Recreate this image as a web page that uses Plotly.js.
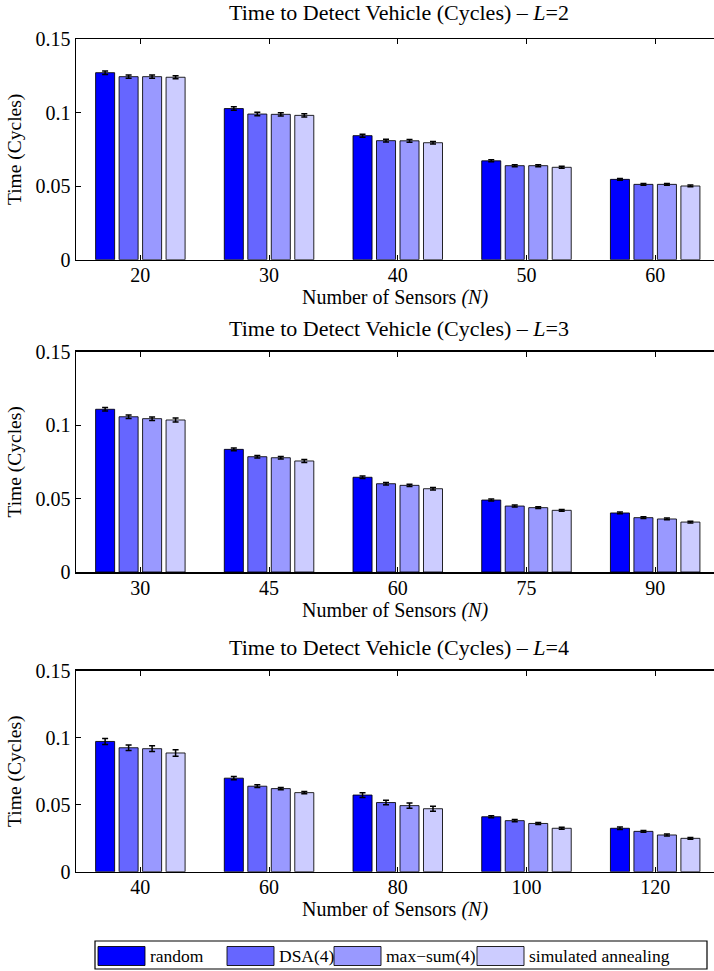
<!DOCTYPE html>
<html>
<head>
<meta charset="utf-8">
<script src="https://cdn.plot.ly/plotly-3.0.1.min.js"></script>
<style>
  html, body { margin: 0; padding: 0; background: #fff; overflow: hidden; }
  #chart { width: 714px; height: 971px; }
</style>
</head>
<body>
<div id="chart"></div>
<script>
// ---------- data ----------
const seriesNames = ['random', 'DSA(4)', 'max\u2212sum(4)', 'simulated annealing'];
const seriesColors = ['#0000FF', '#6666FF', '#9999FF', '#CCCCFF'];

const panelTitles = [
  'Time to Detect Vehicle (Cycles) \u2013 <i>L</i>=2',
  'Time to Detect Vehicle (Cycles) \u2013 <i>L</i>=3',
  'Time to Detect Vehicle (Cycles) \u2013 <i>L</i>=4'
];

const sensorsL2 = ['20', '30', '40', '50', '60'];
const sensorsL3 = ['30', '45', '60', '75', '90'];
const sensorsL4 = ['40', '60', '80', '100', '120'];

// L = 2
const randomL2 = [0.1271, 0.1027, 0.0843, 0.0672, 0.0546];
const dsaL2    = [0.1244, 0.0990, 0.0809, 0.0639, 0.0512];
const maxsumL2 = [0.1244, 0.0988, 0.0808, 0.0639, 0.0512];
const saL2     = [0.1240, 0.0981, 0.0795, 0.0628, 0.0501];
const randomErrL2 = [0.0012, 0.0012, 0.0010, 0.0007, 0.0006];
const dsaErrL2    = [0.0011, 0.0012, 0.0009, 0.0007, 0.0006];
const maxsumErrL2 = [0.0011, 0.0011, 0.0009, 0.0007, 0.0006];
const saErrL2     = [0.0011, 0.0011, 0.0009, 0.0007, 0.0006];

// L = 3
const randomL3 = [0.1108, 0.0835, 0.0645, 0.0490, 0.0402];
const dsaL3    = [0.1057, 0.0785, 0.0601, 0.0449, 0.0370];
const maxsumL3 = [0.1044, 0.0778, 0.0590, 0.0438, 0.0361];
const saL3     = [0.1035, 0.0756, 0.0567, 0.0420, 0.0340];
const randomErrL3 = [0.0012, 0.0009, 0.0008, 0.0007, 0.0006];
const dsaErrL3    = [0.0012, 0.0009, 0.0008, 0.0007, 0.0006];
const maxsumErrL3 = [0.0012, 0.0009, 0.0008, 0.0006, 0.0006];
const saErrL3     = [0.0013, 0.0010, 0.0008, 0.0006, 0.0006];

// L = 4
const randomL4 = [0.0972, 0.0698, 0.0572, 0.0410, 0.0324];
const dsaL4    = [0.0925, 0.0638, 0.0516, 0.0381, 0.0301];
const maxsumL4 = [0.0918, 0.0620, 0.0493, 0.0360, 0.0274];
const saL4     = [0.0886, 0.0590, 0.0470, 0.0324, 0.0249];
const randomErrL4 = [0.0022, 0.0012, 0.0018, 0.0008, 0.0010];
const dsaErrL4    = [0.0021, 0.0010, 0.0017, 0.0008, 0.0007];
const maxsumErrL4 = [0.0021, 0.0009, 0.0019, 0.0007, 0.0007];
const saErrL4     = [0.0024, 0.0009, 0.0018, 0.0007, 0.0006];

const yTickVals = [0, 0.05, 0.1, 0.15];
const yTickText = ['0', '0.05', '0.1', '0.15'];

// ---------- build ----------
const panels = [
  { cats: sensorsL2, vals: [randomL2, dsaL2, maxsumL2, saL2], errs: [randomErrL2, dsaErrL2, maxsumErrL2, saErrL2] },
  { cats: sensorsL3, vals: [randomL3, dsaL3, maxsumL3, saL3], errs: [randomErrL3, dsaErrL3, maxsumErrL3, saErrL3] },
  { cats: sensorsL4, vals: [randomL4, dsaL4, maxsumL4, saL4], errs: [randomErrL4, dsaErrL4, maxsumErrL4, saErrL4] }
];

const W = 714, H = 971, ML = 76;
const FONT = 'Liberation Serif, Times New Roman, serif';
const px2x = p => (p - ML) / (W - ML);
const py2y = p => 1 - p / H;

// plot areas in pixel rows (top, bottom)
const rows = [[39, 259.7], [351.7, 572], [670.7, 871.7]];
const titleY = [13, 328, 647];

const traces = [];
panels.forEach((p, pi) => {
  const ax = pi === 0 ? '' : String(pi + 1);
  p.vals.forEach((v, si) => {
    traces.push({
      type: 'bar',
      x: p.cats,
      y: v,
      name: seriesNames[si],
      showlegend: false,
      xaxis: 'x' + ax,
      yaxis: 'y' + ax,
      marker: { color: seriesColors[si], line: { color: 'rgba(0,0,0,0.85)', width: 1 } },
      error_y: { type: 'data', array: p.errs[si], visible: true, color: '#000', thickness: 1.5, width: 3 },
      hoverinfo: 'x+y+name'
    });
  });
});

const layout = {
  width: W, height: H,
  margin: { l: ML, r: 0, t: 0, b: 0 },
  paper_bgcolor: '#fff', plot_bgcolor: '#fff',
  font: { family: FONT, size: 20, color: '#000' },
  barmode: 'group',
  bargap: 0.27,
  bargroupgap: 0.19,
  showlegend: false,
  annotations: [],
  shapes: []
};

rows.forEach((r, i) => {
  const ax = i === 0 ? '' : String(i + 1);
  layout['xaxis' + ax] = {
    type: 'category',
    domain: [0, 1],
    anchor: 'y' + ax,
    range: [-0.5, 4.457],
    showline: true, linecolor: '#000', linewidth: 1.5,
    mirror: 'ticks',
    ticks: 'inside', ticklen: 5, tickcolor: '#000', tickwidth: 1,
    ticklabelstandoff: -3,
    showgrid: false, zeroline: false,
    tickfont: { family: FONT, size: 20, color: '#000' },
    title: { text: 'Number of Sensors <i>(N)</i>', font: { family: FONT, size: 20, color: '#000' }, standoff: 0 },
    fixedrange: true
  };
  layout['yaxis' + ax] = {
    domain: [py2y(r[1]), py2y(r[0])],
    anchor: 'x' + ax,
    range: [0, 0.15],
    tickvals: yTickVals, ticktext: yTickText,
    showline: true, linecolor: '#000', linewidth: 1.5,
    mirror: false,
    ticks: 'inside', ticklen: 5, tickcolor: '#000', tickwidth: 1,
    showgrid: false, zeroline: false,
    tickfont: { family: FONT, size: 20, color: '#000' },
    title: { text: 'Time (Cycles)', font: { family: FONT, size: 19.5, color: '#000' }, standoff: 8 },
    fixedrange: true
  };
  layout.annotations.push({
    xref: 'paper', yref: 'paper',
    x: px2x(398.7), y: py2y(titleY[i]),
    xanchor: 'center', yanchor: 'middle',
    text: panelTitles[i], showarrow: false,
    font: { family: FONT, size: 22, color: '#000' }
  });
});

// ---------- legend (drawn with shapes + text) ----------
const legBox = [95, 941, 707, 969];
layout.shapes.push({
  type: 'rect', xref: 'paper', yref: 'paper',
  x0: px2x(legBox[0]), x1: px2x(legBox[2]), y0: py2y(legBox[3]), y1: py2y(legBox[1]),
  line: { color: '#000', width: 1.2 }, fillcolor: 'rgba(0,0,0,0)'
});
const swatchX = [98, 227, 334, 477];
const swatchW = 47;
swatchX.forEach((sx, i) => {
  layout.shapes.push({
    type: 'rect', xref: 'paper', yref: 'paper',
    x0: px2x(sx), x1: px2x(sx + swatchW), y0: py2y(965.5), y1: py2y(946.5),
    line: { color: 'rgba(0,0,0,0.85)', width: 1 }, fillcolor: seriesColors[i]
  });
  layout.annotations.push({
    xref: 'paper', yref: 'paper',
    x: px2x(sx + swatchW + 3), y: py2y(956),
    xanchor: 'left', yanchor: 'middle',
    text: seriesNames[i], showarrow: false,
    font: { family: FONT, size: 17.5, color: '#000' }
  });
});

Plotly.newPlot('chart', traces, layout, { displayModeBar: false, staticPlot: true });
</script>
</body>
</html>
